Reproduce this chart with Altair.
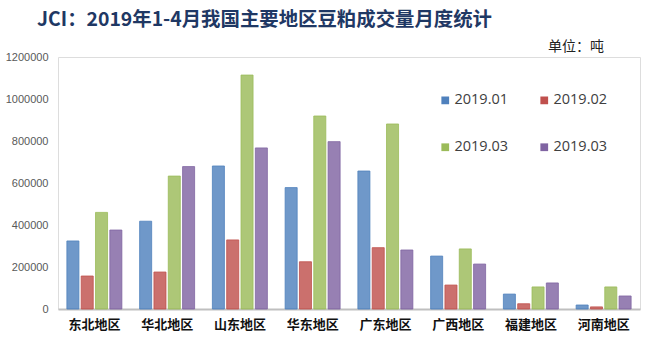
import altair as alt
import pandas as pd

regions = ["东北地区", "华北地区", "山东地区", "华东地区", "广东地区", "广西地区", "福建地区", "河南地区"]
series = ["2019.01", "2019.02", "2019.03", "2019.04"]
jan = [324000, 418000, 681000, 578000, 657000, 252000, 71000, 19000]
feb = [157000, 176000, 329000, 225000, 292000, 114000, 25000, 10000]
mar = [460000, 633000, 1114000, 919000, 881000, 286000, 105000, 105000]
apr = [376000, 678000, 767000, 797000, 281000, 214000, 124000, 62000]
colors = ["#4F81BD", "#C0504D", "#9BBB59", "#8064A2"]
y_ticks = [0, 200000, 400000, 600000, 800000, 1000000, 1200000]

title_text = "JCI：2019年1-4月我国主要地区豆粕成交量月度统计"
unit_text = "单位：吨"

rows = []
for vals, s in zip([jan, feb, mar, apr], series):
    for r, v in zip(regions, vals):
        rows.append({"region": r, "series": s, "value": v})
df = pd.DataFrame(rows)

W, H = 582, 252

bars = alt.Chart(df).mark_bar(fillOpacity=0.82, strokeWidth=0.8).encode(
    x=alt.X("region:N", sort=regions, title=None,
            scale=alt.Scale(paddingInner=0.244, paddingOuter=0.122),
            axis=alt.Axis(labelAngle=0, ticks=False, domainColor="#BFBFBF", domainWidth=2,
                          labelFont="Noto Sans CJK SC", labelFontWeight="bold", labelFontSize=13,
                          labelColor="#111111", labelPadding=9)),
    xOffset=alt.XOffset("series:N", sort=series, scale=alt.Scale(paddingInner=0.16)),
    y=alt.Y("value:Q", title=None,
            scale=alt.Scale(domain=[0, 1200000], nice=False),
            axis=alt.Axis(values=y_ticks, format="d", domain=False, ticks=False, grid=False,
                          labelFont="Liberation Sans", labelFontSize=11, labelColor="#595959",
                          labelPadding=10)),
    color=alt.Color("series:N", sort=series,
                    scale=alt.Scale(domain=series, range=colors),
                    legend=alt.Legend(title=None, orient="none", legendX=380, legendY=36,
                                      direction="horizontal",
                                      columns=2, columnPadding=28, rowPadding=32,
                                      symbolType="square", symbolSize=60, symbolStrokeWidth=0,
                                      labelFont="Open Sans", labelFontSize=14.5, labelColor="#404040",
                                      labelOffset=2,
                                      labelExpr="datum.label == '2019.04' ? '2019.03' : datum.label")),
    stroke=alt.Stroke("series:N", sort=series, scale=alt.Scale(domain=series, range=colors), legend=None),
)

title = alt.Chart(pd.DataFrame({"t": [title_text]})).mark_text(
    font="Noto Sans CJK SC", fontWeight="bold", fontSize=19.4, color="#1F3864",
    align="left", baseline="middle").encode(
    text="t:N", x=alt.value(-21), y=alt.value(-37))

unit = alt.Chart(pd.DataFrame({"t": [unit_text]})).mark_text(
    font="Noto Sans CJK SC", fontSize=14, color="#222222",
    align="left", baseline="middle").encode(
    text="t:N", x=alt.value(490), y=alt.value(-10))

chart = alt.layer(bars, title, unit).properties(
    width=W, height=H,
    autosize=alt.AutoSizeParams(type="none"),
    padding={"left": 58, "top": 57, "right": 9, "bottom": 31},
).configure_view(stroke=None).configure(background="white")

chart.save("out.html", embed_options={"renderer": "svg", "actions": False})
